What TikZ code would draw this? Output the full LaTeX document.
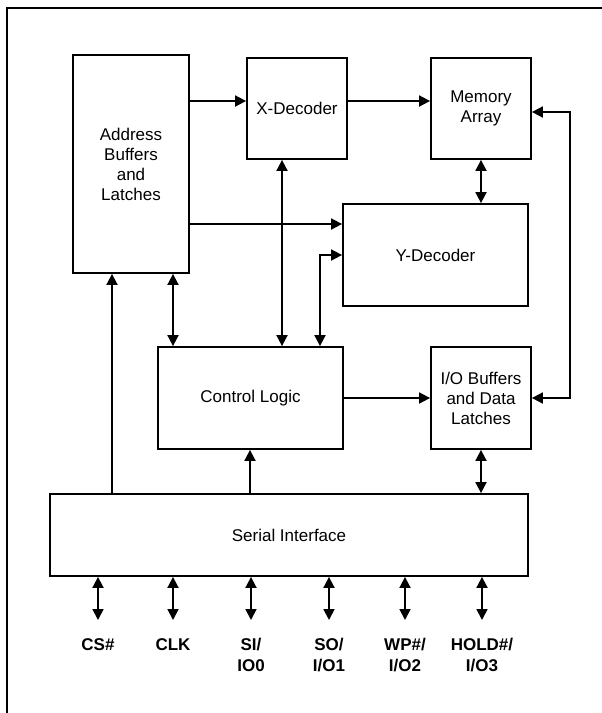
\documentclass[tikz,border=0pt]{standalone}
\usepackage{fontspec}
\setmainfont{Liberation Sans}
\usetikzlibrary{arrows.meta}
\begin{document}
\begin{tikzpicture}[x=1pt, y=-1pt,
    blk/.style={draw, line width=1.8pt, inner sep=0pt, align=center,
                font=\fontsize{17}{20}\selectfont},
    arr/.style={line width=1.8pt, -{Triangle[length=11pt, width=11pt]}},
    dbl/.style={line width=1.8pt, {Triangle[length=11pt, width=11pt]}-{Triangle[length=11pt, width=11pt]}},
    pinlbl/.style={inner sep=0pt, align=center, anchor=north,
                   font=\fontsize{17}{21}\selectfont\bfseries}]
    \useasboundingbox (0,0) rectangle (602,713);
    % 外框
    \draw[line width=1.8pt] (7,713) -- (7,8) -- (602,8);
    % 各功能块
    \node[blk, minimum width=116, minimum height=218] (addr) at (131,164) {Address\\Buffers\\and\\Latches};
    \node[blk, minimum width=100, minimum height=101] (xdec) at (297,108.5) {X-Decoder};
    \node[blk, minimum width=100, minimum height=101] (mem) at (481,108.5) {Memory\\Array};
    \node[blk, minimum width=185, minimum height=102] (ydec) at (435.5,255) {Y-Decoder};
    \node[blk, minimum width=185, minimum height=102] (ctrl) at (250.5,398) {Control Logic};
    \node[blk, minimum width=100, minimum height=102] (iobuf) at (481,398) {I/O Buffers\\and Data\\Latches};
    \node[blk, minimum width=478, minimum height=82] (serial) at (289,535) {Serial Interface};
    % 地址通路
    \draw[arr] (addr.east |- 0,101) -- (xdec.west |- 0,101);
    \draw[arr] (xdec.east |- 0,101) -- (mem.west |- 0,101);
    \draw[arr] (addr.east |- 0,224) -- (ydec.west |- 0,224);
    \draw[dbl] (mem.south) -- (mem.south |- ydec.north);
    % 存储阵列与I/O缓冲之间的回路
    \coordinate (loopA) at (570,112);
    \coordinate (loopB) at (570,398);
    \draw[dbl] (mem.east |- loopA) -- (loopA) -- (loopB) -- (iobuf.east);
    % 控制逻辑
    \draw[dbl] (addr.south -| 173,0) -- (ctrl.north -| 173,0);
    \draw[dbl] (xdec.south -| 282,0) -- (ctrl.north -| 282,0);
    \draw[dbl] (ctrl.north -| 320,0) |- (ydec.west);
    \draw[arr] (ctrl.east) -- (iobuf.west);
    % 串行接口
    \draw[arr] (serial.north -| 112,0) -- (addr.south -| 112,0);
    \draw[arr] (serial.north -| 250,0) -- (ctrl.south -| 250,0);
    \draw[dbl] (iobuf.south) -- (serial.north -| iobuf.south);
    % 引脚
    \foreach \px/\pname/\ptext in {98/cs/{CS\#}, 173/clk/{CLK}, 251/si/{SI/\\IO0},
                                  329/so/{SO/\\I/O1}, 405/wp/{WP\#/\\I/O2}, 482/hold/{HOLD\#/\\I/O3}} {
        \coordinate (\pname) at (\px,620);
        \draw[dbl] (serial.south -| \pname) -- (\pname);
        \node[pinlbl] (\pname lbl) at (\px,638) {\ptext};
    }
\end{tikzpicture}
\end{document}
